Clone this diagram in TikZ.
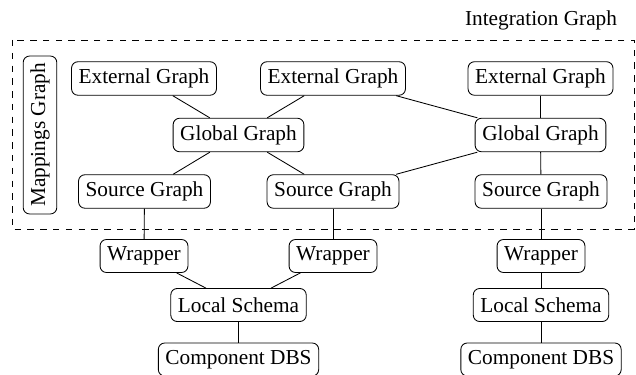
\documentclass[tikz,border=0pt]{standalone}
\usepackage{fontspec}
\setmainfont{Liberation Serif}
\tikzset{>=latex}
\tikzset{graph/.style={draw, rounded corners=3pt, minimum height=15.5pt}}

\begin{document}
\begin{tikzpicture}[x=0.4695pt, y=-0.4695pt]
        \useasboundingbox (0, 0) rectangle (636, 375);
        \draw[dashed] (12, 40) rectangle (634, 229);
        \node[anchor=base] (integ) at (541, 26) {Integration Graph};
        \node[graph, rotate=90] (map) at (40, 135) {Mappings Graph};
        \node[graph] (ext1) at (144, 78.5) {External Graph};
        \node[graph] (ext2) at (333, 78.5) {External Graph};
        \node[graph] (ext3) at (540.5, 78.5) {External Graph};
        \node[graph] (glob1) at (238.5, 135) {Global Graph};
        \node[graph] (glob2) at (540.5, 135) {Global Graph};
        \node[graph] (src1) at (144.5, 191.5) {Source Graph};
        \node[graph] (src2) at (333, 191.5) {Source Graph};
        \node[graph] (src3) at (541, 191.5) {Source Graph};
        \node[graph] (wrap1) at (144, 256) {Wrapper};
        \node[graph] (wrap2) at (333, 256) {Wrapper};
        \node[graph] (wrap3) at (541, 256) {Wrapper};
        \node[graph] (local1) at (238.5, 305) {Local Schema};
        \node[graph] (local2) at (541, 305) {Local Schema};
        \node[graph] (comp1) at (238.5, 359.5) {Component DBS};
        \node[graph] (comp2) at (541, 359.5) {Component DBS};
        \draw (ext1) -- (glob1);
        \draw (ext2) -- (glob1);
        \draw (ext2) -- (glob2);
        \draw (ext3) -- (glob2);
        \draw (glob1) -- (src1);
        \draw (glob1) -- (src2);
        \draw (glob2) -- (src2);
        \draw (glob2) -- (src3);
        \draw (src1) -- (wrap1);
        \draw (src2) -- (wrap2);
        \draw (src3) -- (wrap3);
        \draw (wrap1) -- (local1);
        \draw (wrap2) -- (local1);
        \draw (wrap3) -- (local2);
        \draw (local1) -- (comp1);
        \draw (local2) -- (comp2);
      \end{tikzpicture}
\end{document}
